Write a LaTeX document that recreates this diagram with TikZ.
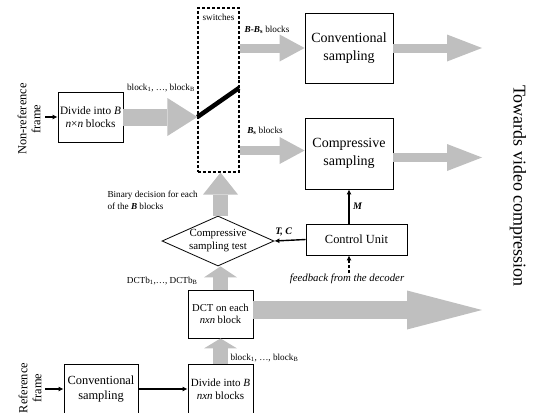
\documentclass[tikz,border=0pt]{standalone}
\usepackage{fontspec}
\setmainfont{Liberation Serif}
\usetikzlibrary{arrows.meta,shapes.geometric,positioning}
\newcommand{\sz}[2]{\fontsize{#1bp}{#2bp}\selectfont}
\begin{document}
\begin{tikzpicture}[x=1bp,y=1bp,
	box/.style={draw,line width=0.8bp,align=center,inner sep=0pt},
	fat/.style n args={3}{draw=gray!50,line width=#1,-{Triangle[length=#2,width=#3,line width=0pt,fill=gray!50]}},
	conn/.style={line width=1.4bp,-{Latex[length=5bp,width=5bp]}},
	small/.style={font=\sz{9.2}{12}}]
	\useasboundingbox (0,0) rectangle (541,412);
	\coordinate (out) at (482,0);
	\node[box,minimum width=65bp,minimum height=50bp,font=\sz{11.3}{13.5}] (div1) at (90.5,295) {Divide into \textit{B}\\\textit{n}×\textit{n} blocks};
	\node[draw,densely dashed,line width=1.2bp,minimum width=41bp,minimum height=164bp] (sw) at (218.5,322) {};
	\node[small,anchor=north] (swlab) at ([yshift=-3bp]sw.north) {switches};
	\node[box,minimum width=88bp,minimum height=70bp,font=\sz{14}{18}] (conv) at (349,364) {Conventional\\sampling};
	\node[box,minimum width=88bp,minimum height=71bp,font=\sz{14}{18}] (comp) at (349,258.5) {Compressive\\sampling};
	\node[draw,diamond,line width=0.8bp,align=center,inner sep=0pt,aspect=2.24,minimum width=112bp,minimum height=50bp,font=\sz{10.9}{13}] (dia) at (218,171) {Compressive\\sampling test};
	\node[box,minimum width=101bp,minimum height=31bp,font=\sz{12.4}{14}] (ctrl) at (356.5,172.5) {Control Unit};
	\node[box,minimum width=65bp,minimum height=48bp,font=\sz{10.6}{12.7}] (dct) at (220.5,98) {DCT on each\\\textit{nxn} block};
	\node[box,minimum width=65bp,minimum height=50bp,font=\sz{11}{13.5}] (div2) at (220.5,23) {Divide into \textit{B}\\\textit{nxn} blocks};
	\node[box,minimum width=74bp,minimum height=50bp,font=\sz{12.4}{15}] (conv2) at (101,23) {Conventional\\sampling};
	\draw[fat={17bp}{30bp}{38bp}] (div1.east) -- (div1.east -| sw.west);
	\coordinate (lvtop) at (239,324);
	\draw[line width=4.5bp] (div1.east -| sw.west) -- (lvtop);
	\draw[fat={9bp}{25bp}{27bp}] (sw.east |- conv.west) -- (conv.west);
	\draw[fat={9bp}{25bp}{27bp}] ([yshift=3bp]sw.east |- comp.west) -- ([yshift=3bp]comp.west);
	\draw[fat={9bp}{35bp}{27bp}] (conv.east) -- (conv.east -| out);
	\draw[fat={9bp}{35bp}{27bp}] ([yshift=-4bp]comp.east) -- ([yshift=-4bp]comp.east -| out);
	\draw[fat={15bp}{22bp}{35bp}] (dct.north |- dia.north) -- (dct.north |- sw.south);
	\draw[fat={15bp}{11bp}{33bp}] (dct.north) -- (dct.north |- dia.south);
	\draw[fat={15bp}{10bp}{33bp}] (div2.north) -- (dct.south);
	\draw[fat={18bp}{75bp}{39bp}] ([yshift=4bp]dct.east) -- ([yshift=4bp]dct.east -| out);
	\coordinate (nrf) at (45,295);
	\coordinate (rf) at (45,23);
	\coordinate (fb) at (349,139);
	\draw[conn] (nrf) -- (div1.west);
	\draw[conn] (rf) -- (conv2.west);
	\draw[conn] (conv2.east) -- (div2.west);
	\draw[conn] (ctrl.west) -- (dia.east) node[pos=0.7,above,font=\sz{10}{12}] {\textbf{\textit{T, C}}};
	\draw[conn] (ctrl.north -| comp.south) -- (comp.south) node[midway,right,font=\sz{10}{12}] {\textbf{\textit{M}}};
	\draw[conn,densely dashed] (fb) -- (fb |- ctrl.south);
	\node[font=\sz{10.8}{12}\itshape] (fblab) at (347,133) {feedback from the decoder};
	\node[rotate=90,align=center,font=\sz{12.4}{14}] (nrtext) at (29,293) {Non-reference\\frame};
	\node[rotate=90,align=center,font=\sz{12.4}{14}] (rtext) at (30,24) {Reference\\frame};
	\node[rotate=-90,font=\sz{18}{20}] (towards) at (518,226) {Towards video compression};
	\node[small] (lbla) at (161,324) {block\textsubscript{1}, …, block\textsubscript{B}};
	\node[small] (lblb) at (267,382) {\textbf{\textit{B}-\textit{B}\textsubscript{s}} blocks};
	\node[small] (lblc) at (265,281) {\textbf{\textit{B}\textsubscript{s}} blocks};
	\node[small,align=left,anchor=west] (lbld) at (104,212) {Binary decision for each\\of the \textbf{\textit{B}} blocks};
	\node[small,anchor=east] (lble) at (201,131) {DCTb\textsubscript{1},…, DCTb\textsubscript{B}};
	\node[small,anchor=west] (lblf) at (227,54) {block\textsubscript{1}, …, block\textsubscript{B}};
\end{tikzpicture}
\end{document}
